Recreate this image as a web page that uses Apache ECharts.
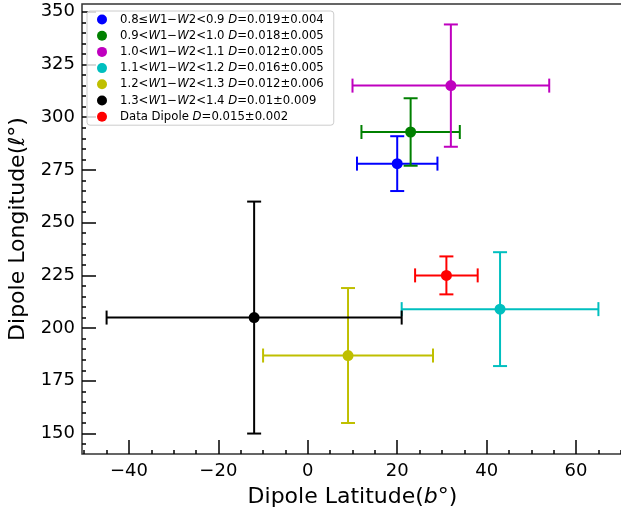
<!DOCTYPE html>
<html>
<head>
<meta charset="utf-8">
<script src="https://cdn.jsdelivr.net/npm/echarts@6/dist/echarts.min.js"></script>
<style>
html,body{margin:0;padding:0;background:#fff;}
#chart{width:621px;height:509px;}
</style>
</head>
<body>
<div id="chart"></div>
<script>
// ---- data ----
const binLabels = [
  '0.8≤W1−W2<0.9',
  '0.9<W1−W2<1.0',
  '1.0<W1−W2<1.1',
  '1.1<W1−W2<1.2',
  '1.2<W1−W2<1.3',
  '1.3<W1−W2<1.4',
  'Data Dipole'
];
const dipoleAmp = ['0.019±0.004','0.018±0.005','0.012±0.005','0.016±0.005','0.012±0.006','0.01±0.009','0.015±0.002'];
const latitude  = [20, 23, 32, 43, 9, -12, 31];
const longitude = [278, 293, 315, 209, 187, 205, 225];
const latErr    = [9, 11, 22, 22, 19, 33, 7];
const lonErr    = [13, 16, 29, 27, 32, 55, 9];
const colors = ['#0000ff','#008000','#bf00bf','#00bfbf','#bfbf00','#000000','#ff0000'];
const xTicks = [-40, -20, 0, 20, 40, 60];
const yTicks = [150, 175, 200, 225, 250, 275, 300, 325, 350];
const xRange = [-50.5, 70.5];
const yRange = [140.3, 353.7];

// minor tick positions (every 5 units, skipping majors)
const xMinor = [], yMinor = [];
for (let v = -50; v <= 70; v += 5) if (xTicks.indexOf(v) < 0) xMinor.push(v);
for (let v = 145; v <= 350; v += 5) if (yTicks.indexOf(v) < 0) yMinor.push(v);

const FONT = 'DejaVu Sans';
const LEG_FS = 11.7;
const names = binLabels.map((b, i) => b + ' D=' + dipoleAmp[i]);

const series = [];
names.forEach((nm, i) => {
  series.push({
    type: 'custom',
    name: 'err' + i,
    xAxisIndex: 0, yAxisIndex: 0,
    encode: {x: 0, y: 1},
    data: [[latitude[i], longitude[i], latErr[i], lonErr[i]]],
    silent: true,
    renderItem: function (params, api) {
      const x = api.value(0), y = api.value(1), xe = api.value(2), ye = api.value(3);
      const l = api.coord([x - xe, y]), r = api.coord([x + xe, y]);
      const t = api.coord([x, y + ye]), b = api.coord([x, y - ye]);
      const cap = 7;
      const st = {stroke: colors[i], lineWidth: 2};
      const seg = (x1, y1, x2, y2) => ({type: 'line', shape: {x1, y1, x2, y2}, style: st});
      return {type: 'group', children: [
        seg(l[0], l[1], r[0], r[1]),
        seg(t[0], t[1], b[0], b[1]),
        seg(l[0], l[1] - cap, l[0], l[1] + cap),
        seg(r[0], r[1] - cap, r[0], r[1] + cap),
        seg(t[0] - cap, t[1], t[0] + cap, t[1]),
        seg(b[0] - cap, b[1], b[0] + cap, b[1])
      ]};
    }
  });
  series.push({
    type: 'scatter',
    name: nm,
    xAxisIndex: 0, yAxisIndex: 0,
    symbol: 'circle',
    symbolSize: 11,
    itemStyle: {color: colors[i], opacity: 1},
    data: [[latitude[i], longitude[i]]],
    silent: true
  });
});

const tickLabel = {fontFamily: FONT, fontSize: 18, color: '#000'};
const chart = echarts.init(document.getElementById('chart'), null, {renderer: 'canvas'});
chart.setOption({
  animation: false,
  backgroundColor: '#fff',
  grid: {left: 82, top: 4, width: 541, height: 450, show: true, borderColor: '#333', borderWidth: 1.5,
    backgroundColor: 'transparent', containLabel: false, outerBoundsMode: 'none'},
  legend: {
    orient: 'vertical',
    left: 87, top: 11,
    data: names.map(n => ({name: n, icon: 'circle'})),
    itemWidth: 10, itemHeight: 10, itemGap: 4.2,
    padding: [2.5, 10, 2.5, 10],
    borderColor: '#cccccc', borderWidth: 1, borderRadius: 3,
    backgroundColor: 'rgba(255,255,255,0.8)',
    selectedMode: false,
    formatter: function (n) {
      return n.replace(/W/g, '{i|W}').replace(' D=', ' {i|D}=');
    },
    textStyle: {
      fontFamily: FONT, fontSize: LEG_FS, color: '#000', padding: [0, 0, 0, 8],
      rich: {i: {fontFamily: FONT, fontSize: LEG_FS, fontStyle: 'italic', color: '#000'}}
    }
  },
  xAxis: [{
    type: 'value', position: 'bottom', min: xRange[0], max: xRange[1],
    name: '{n|Dipole Latitude(}{i|b}{n|°)}', nameLocation: 'middle', nameGap: 32,
    nameTextStyle: {fontFamily: FONT, fontSize: 22, color: '#000',
      rich: {n: {fontFamily: FONT, fontSize: 22, color: '#000'}, i: {fontFamily: FONT, fontSize: 22, fontStyle: 'italic', color: '#000'}}},
    splitLine: {show: false},
    axisLine: {show: false, onZero: false},
    axisTick: {show: true, inside: true, length: 14, customValues: xTicks, lineStyle: {color: '#000', width: 1.5}},
    axisLabel: {show: true, margin: 8, customValues: xTicks, formatter: v => String(v).replace('-', '\u2212'), ...tickLabel}
  }, {
    type: 'value', position: 'bottom', min: xRange[0], max: xRange[1],
    splitLine: {show: false}, axisLine: {show: false, onZero: false},
    axisTick: {show: true, inside: true, length: 4, customValues: xMinor, lineStyle: {color: '#000', width: 1.5}},
    axisLabel: {show: false}
  }],
  yAxis: [{
    type: 'value', position: 'left', min: yRange[0], max: yRange[1],
    name: '{n|Dipole Longitude(}{i|ℓ}{n|°)}', nameLocation: 'middle', nameGap: 52,
    nameTextStyle: {fontFamily: FONT, fontSize: 22, color: '#000',
      rich: {n: {fontFamily: FONT, fontSize: 22, color: '#000'}, i: {fontFamily: FONT, fontSize: 22, fontStyle: 'italic', color: '#000'}}},
    splitLine: {show: false},
    axisLine: {show: false, onZero: false},
    axisTick: {show: true, inside: true, length: 14, customValues: yTicks, lineStyle: {color: '#000', width: 1.5}},
    axisLabel: {show: true, margin: 7, customValues: yTicks, ...tickLabel}
  }, {
    type: 'value', position: 'left', min: yRange[0], max: yRange[1],
    splitLine: {show: false}, axisLine: {show: false, onZero: false},
    axisTick: {show: true, inside: true, length: 4, customValues: yMinor, lineStyle: {color: '#000', width: 1.5}},
    axisLabel: {show: false}
  }],
  series: series
});
</script>
</body>
</html>
